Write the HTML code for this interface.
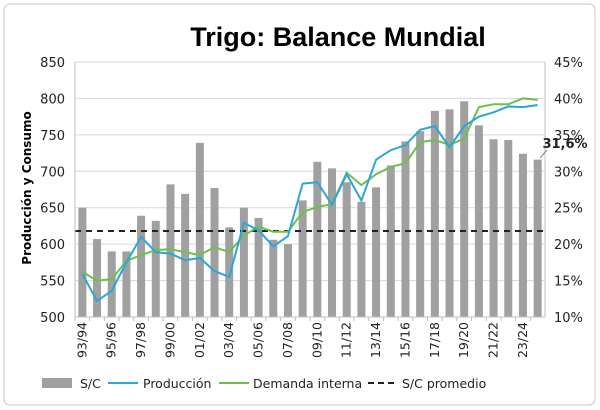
<!DOCTYPE html>
<html><head><meta charset="utf-8"><style>
body{margin:0;background:#fff;}
svg{display:block;font-family:"DejaVu Sans","Liberation Sans",sans-serif;}
</style></head><body>
<svg id="chart" width="600" height="410" viewBox="0 0 600 410">
<rect x="4" y="4" width="591" height="401" rx="6" fill="#fff" stroke="#c8c8c8"/>
<text x="338" y="46" text-anchor="middle" font-size="27" font-weight="bold" fill="#000" font-family="Liberation Sans, sans-serif">Trigo: Balance Mundial</text>
<text transform="translate(31,188) rotate(-90)" text-anchor="middle" font-size="12" font-weight="bold" fill="#000">Producción y Consumo</text>
<g id="grid"></g><g id="bars"></g><g id="lines"></g><g id="axes"></g>
<text x="565" y="148" text-anchor="middle" font-size="13" font-weight="bold" fill="#222">31,6%</text>
<line x1="547" y1="150" x2="540" y2="158" stroke="#888"/>
<g font-size="12.5">
<rect x="42" y="378" width="30" height="10" fill="#a0a0a0"/>
<text x="80" y="388" fill="#222">S/C</text>
<line x1="108" y1="383" x2="138" y2="383" stroke="#2aa7d8" stroke-width="2"/>
<text x="143" y="388" fill="#222">Producción</text>
<line x1="219" y1="383" x2="249" y2="383" stroke="#6ec04c" stroke-width="2"/>
<text x="253" y="388" fill="#222">Demanda interna</text>
<line x1="368" y1="383" x2="398" y2="383" stroke="#222" stroke-width="2" stroke-dasharray="6,4"/>
<text x="402" y="388" fill="#222">S/C promedio</text>
</g>
</svg>
<script>
const categories=["93/94","94/95","95/96","96/97","97/98","98/99","99/00","00/01","01/02","02/03","03/04","04/05","05/06","06/07","07/08","08/09","09/10","10/11","11/12","12/13","13/14","14/15","15/16","16/17","17/18","18/19","19/20","20/21","21/22","22/23","23/24","24/25"];
const scValues=[25,20.7,19,19,23.9,23.2,28.2,26.9,33.9,27.7,22.3,25,23.6,20.6,20,26,31.3,30.4,28.5,25.8,27.8,30.8,34.1,35.5,38.3,38.5,39.6,36.3,34.4,34.3,32.4,31.6];
const produccion=[559,522,536,575,610,589,587,578,581,563,555,629,619,597,611,683,685,654,696,660,716,729,736,757,762,733,762,775,781,789,788,791];
const demanda=[562,550,552,577,585,592,593,589,585,596,589,612,624,617,617,644,651,655,698,681,696,706,711,740,743,736,745,788,792,792,800,798];
const scPromedio=21.8;
const leftTicks=[500,550,600,650,700,750,800,850];
const rightTicks=[10,15,20,25,30,35,40,45];
const X0=75,X1=545,Y0=317,Y1=62;
const NS="http://www.w3.org/2000/svg";
const step=(X1-X0)/categories.length;
function xc(i){return X0+step*(i+0.5);}
function yL(v){return Y0-(v-500)/(850-500)*(Y0-Y1);}
function yR(v){return Y0-(v-10)/(45-10)*(Y0-Y1);}
function mk(tag,parent,attrs){const e=document.createElementNS(NS,tag);for(const k in attrs)e.setAttribute(k,attrs[k]);document.getElementById(parent).appendChild(e);return e;}
leftTicks.forEach((t,i)=>{
  const g=mk('line','grid',{x1:X0,x2:X1,y1:yL(t),y2:yL(t),stroke:'#d9d9d9'});
  
  
  const tl=mk('text','axes',{x:X0-10,y:yL(t)+5,'text-anchor':'end','font-size':13,fill:'#222'});
  tl.textContent=t;
  
  
});
rightTicks.forEach(t=>{
  const tl=mk('text','axes',{x:X1+9,y:yR(t)+5,'font-size':13,fill:'#222'});
  tl.textContent=t+'%';
  
  
});
const ax=mk('line','axes',{x1:X0,x2:X0,y1:Y1,y2:Y0,stroke:'#bfbfbf'});


const ax2=mk('line','axes',{x1:X1,x2:X1,y1:Y1,y2:Y0,stroke:'#bfbfbf'});


const bx=mk('line','axes',{x1:X0,x2:X1,y1:Y0,y2:Y0,stroke:'#bfbfbf'});


categories.forEach((c,i)=>{
  const b=mk('rect','bars',{x:xc(i)-4,y:yR(scValues[i]),width:8,height:Y0-yR(scValues[i]),fill:'#a0a0a0'});
  
  
  const tk=mk('line','axes',{x1:X0+step*i,x2:X0+step*i,y1:Y0,y2:Y0+4,stroke:'#bfbfbf'});
  
  
  if(i%2===0){
    const t=mk('text','axes',{transform:`translate(${xc(i)+4},${Y0+5}) rotate(-90)`,'text-anchor':'end','font-size':12.5,fill:'#222'});
    t.textContent=c;
    
    
  }
});
const avg=mk('line','lines',{x1:X0,x2:X1,y1:yR(scPromedio),y2:yR(scPromedio),stroke:'#222','stroke-width':2,'stroke-dasharray':'6,5'});


const pd=mk('polyline','lines',{points:demanda.map((v,i)=>xc(i)+','+yL(v)).join(' '),fill:'none',stroke:'#6ec04c','stroke-width':2});


const pp=mk('polyline','lines',{points:produccion.map((v,i)=>xc(i)+','+yL(v)).join(' '),fill:'none',stroke:'#2aa7d8','stroke-width':2});


</script>
</body></html>
